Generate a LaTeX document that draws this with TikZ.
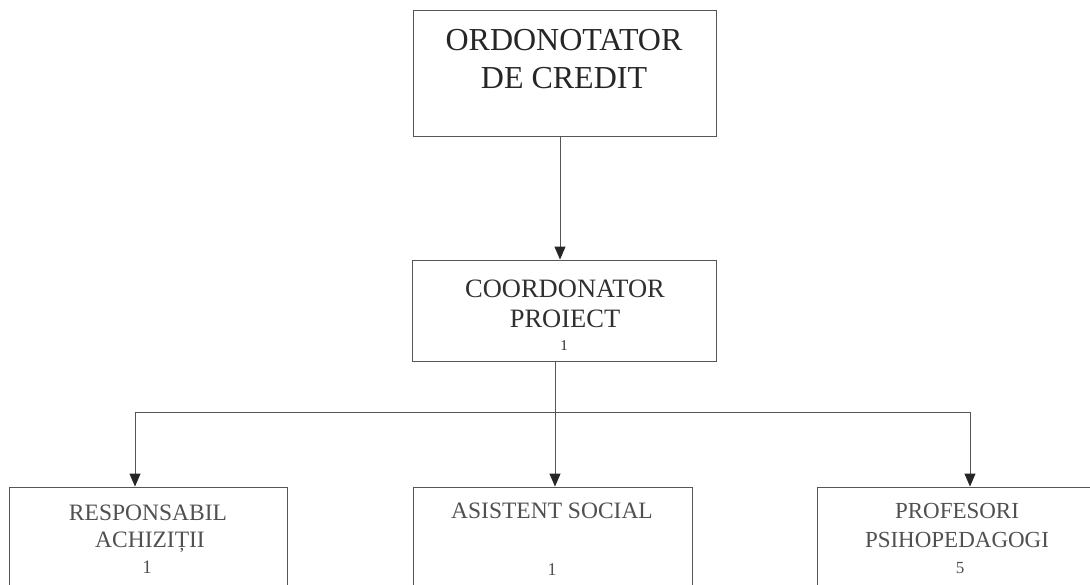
\documentclass[tikz,border=0pt]{standalone}
\usepackage{fontspec}
\setmainfont{Liberation Serif}
\usetikzlibrary{arrows.meta}
\definecolor{ink}{HTML}{303030}
\definecolor{inkl}{HTML}{505050}
\definecolor{edge}{HTML}{555555}
\begin{document}
\begin{tikzpicture}[x=1pt,y=-1pt,
  boxst/.style={draw=edge,line width=0.9pt,rectangle,inner sep=0pt},
  lbl/.style={anchor=base,inner sep=0pt,text=ink},
  conn/.style={draw=edge,line width=0.9pt},
  arr/.style={conn,-{Triangle[length=13pt,width=11pt,color=black!85]}}]
\useasboundingbox (0,0) rectangle (1090,584);
\clip (0,0) rectangle (1090,584);
% boxes
\node[boxst,minimum width=303pt,minimum height=126pt] (b1) at (564.5,73) {};
\node[boxst,minimum width=304pt,minimum height=101pt] (b2) at (564,310.5) {};
\node[boxst,minimum width=278pt,minimum height=200pt] (bl) at (148,587) {};
\node[boxst,minimum width=279pt,minimum height=200pt] (bm) at (552.5,587) {};
\node[boxst,minimum width=310pt,minimum height=200pt] (br) at (972,587) {};
% texts
\node[lbl,text=black!85,font=\fontsize{32}{36}\selectfont] (t1a) at (564,50) {ORDONOTATOR};
\node[lbl,text=black!85,font=\fontsize{32}{36}\selectfont] (t1b) at (564,88) {DE CREDIT};
\node[lbl,font=\fontsize{26.5}{30}\selectfont] (t2a) at (565,297) {COORDONATOR};
\node[lbl,font=\fontsize{26.5}{30}\selectfont] (t2b) at (565,327) {PROIECT};
\node[lbl,font=\fontsize{15}{18}\selectfont] (t2c) at (564,350) {1};
\node[lbl,text=inkl,font=\fontsize{23.5}{27}\selectfont] (tla) at (148,520) {RESPONSABIL};
\node[lbl,text=inkl,font=\fontsize{23.5}{27}\selectfont] (tlb) at (150,547) {ACHIZIȚII};
\node[lbl,text=inkl,font=\fontsize{19}{22}\selectfont] (tlc) at (147,573) {1};
\node[lbl,text=inkl,font=\fontsize{23.5}{27}\selectfont] (tma) at (552,518) {ASISTENT SOCIAL};
\node[lbl,text=inkl,font=\fontsize{18}{22}\selectfont] (tmc) at (552,575) {1};
\node[lbl,text=inkl,font=\fontsize{23}{27}\selectfont] (tra) at (957,518) {PROFESORI};
\node[lbl,text=inkl,font=\fontsize{23}{27}\selectfont] (trb) at (957,547) {PSIHOPEDAGOGI};
\node[lbl,text=inkl,font=\fontsize{17}{20}\selectfont] (trc) at (960,573) {5};
% connectors
\coordinate (j) at (555,412);
\coordinate (jl) at (135,412);
\coordinate (jr) at (970,412);
\draw[arr] (b1.south -| 560,0) -- (b2.north -| 560,0);
\draw[conn] (b2.south -| j) -- (j);
\draw[conn] (jl) -- (jr);
\draw[arr] (jl) -- (bl.north -| jl);
\draw[arr] (j) -- (bm.north -| j);
\draw[arr] (jr) -- (br.north -| jr);
\end{tikzpicture}
\end{document}
